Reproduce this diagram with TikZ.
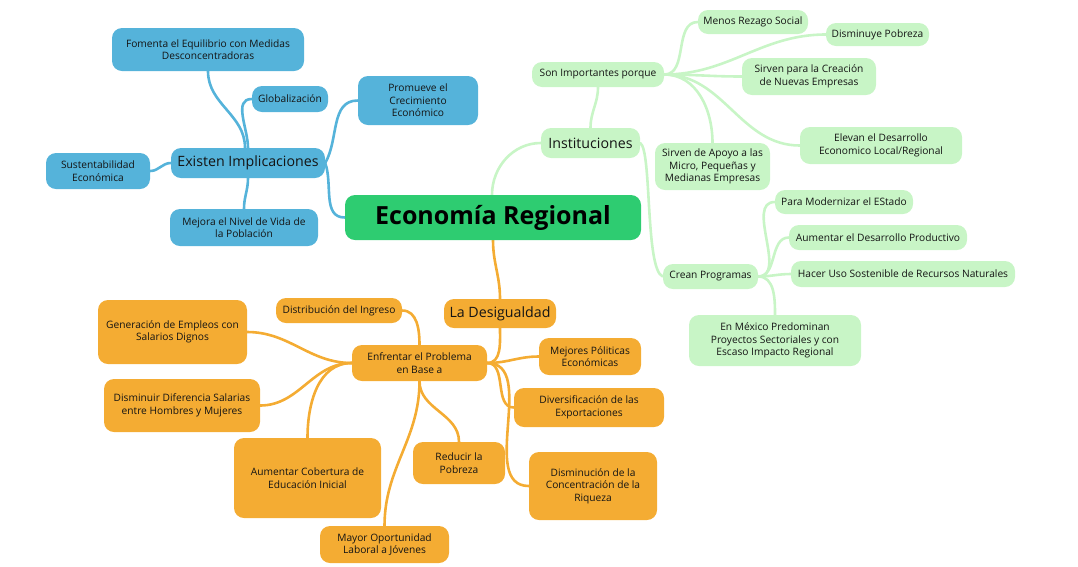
\documentclass[tikz,border=0pt]{standalone}
\usepackage{fontspec}
\setmainfont{Open Sans}
\usetikzlibrary{backgrounds}
\definecolor{cgreen}{HTML}{2ECC71}
\definecolor{cblue}{HTML}{55B3DA}
\definecolor{clight}{HTML}{C8F5C6}
\definecolor{corange}{HTML}{F4AC33}
\definecolor{ctext}{HTML}{141414}
\begin{document}
\begin{tikzpicture}[x=1pt,y=-1pt,
  box/.style={rounded corners=10pt, align=center, inner sep=0pt, text=ctext,
    font=\fontsize{10.2}{12.6}\selectfont},
  bluebox/.style={box, fill=cblue},
  lightbox/.style={box, fill=clight},
  orbox/.style={box, fill=corange},
  big/.style={font=\fontsize{14.2}{17}\selectfont},
  bl/.style={draw=cblue, line width=2.6pt, line cap=round},
  gl/.style={draw=clight, line width=2.6pt, line cap=round},
  ol/.style={draw=corange, line width=2.6pt, line cap=round},
  sz/.style 2 args={minimum width=#1, minimum height=#2}
]
\useasboundingbox (0,0) rectangle (1078,566);
% center
\node[box, fill=cgreen, sz={296}{45}, font=\bfseries\fontsize{25}{30}\selectfont, text=black] (ce) at (493,217.5) {Economía Regional};
% blue
\node[bluebox, big, sz={154}{30}] (ei) at (248,163) {Existen Implicaciones};
\node[bluebox, sz={192}{43}] (fo) at (208,49.5) {Fomenta el Equilibrio con Medidas\\Desconcentradoras};
\node[bluebox, sz={76}{26}] (glo) at (290,99) {Globalización};
\node[bluebox, sz={120}{49}] (pr) at (418,100.5) {Promueve el\\Crecimiento\\Económico};
\node[bluebox, sz={104}{36}] (su) at (98,171) {Sustentabilidad\\Económica};
\node[bluebox, sz={148}{37}] (me) at (244,227.5) {Mejora el Nivel de Vida de\\la Población};
% light green
\node[lightbox, big, sz={99}{30}] (in) at (590.5,143) {Instituciones};
\node[lightbox, sz={132}{25}] (so) at (598,74.5) {Son Importantes porque};
\node[lightbox, sz={110}{24}] (mr) at (753,22) {Menos Rezago Social};
\node[lightbox, sz={103}{23}] (dp) at (877.5,34.5) {Disminuye Pobreza};
\node[lightbox, sz={134}{37}] (sp) at (809,76.5) {Sirven para la Creación\\de Nuevas Empresas};
\node[lightbox, sz={162}{37}] (el) at (881,145.5) {Elevan el Desarrollo\\Economico Local/Regional};
\node[lightbox, sz={115}{47}] (sa) at (712.5,166.5) {Sirven de Apoyo a las\\Micro, Pequeñas y\\Medianas Empresas};
\node[lightbox, sz={95}{25}] (cp) at (710.5,276.5) {Crean Programas};
\node[lightbox, sz={138}{24}] (pm) at (844,202) {Para Modernizar el EStado};
\node[lightbox, sz={178}{25}] (ad) at (878,237.5) {Aumentar el Desarrollo Productivo};
\node[lightbox, sz={224}{26}] (hu) at (903,274) {Hacer Uso Sostenible de Recursos Naturales};
\node[lightbox, sz={172}{51}] (em) at (775,340.5) {En México Predominan\\Proyectos Sectoriales y con\\Escaso Impacto Regional};
% orange
\node[orbox, big, sz={112}{29}] (de) at (500,313.5) {La Desigualdad};
\node[orbox, sz={135}{36}] (en) at (419.5,363) {Enfrentar el Problema\\en Base a};
\node[orbox, sz={126}{25}] (di) at (339,310.5) {Distribución del Ingreso};
\node[orbox, sz={149}{64}] (ge) at (172.5,332) {Generación de Empleos con\\Salarios Dignos};
\node[orbox, sz={156}{53}] (dd) at (182,405.5) {Disminuir Diferencia Salarias\\entre Hombres y Mujeres};
\node[orbox, sz={147}{80}] (ac) at (307.5,478) {Aumentar Cobertura de\\Educación Inicial};
\node[orbox, sz={92}{42}] (rp) at (459,463) {Reducir la\\Pobreza};
\node[orbox, sz={129}{37}] (mo) at (384.5,544.5) {Mayor Oportunidad\\Laboral a Jóvenes};
\node[orbox, sz={102}{37}] (mp) at (590,356.5) {Mejores Póliticas\\Económicas};
\node[orbox, sz={150}{39}] (dv) at (589,407.5) {Diversificación de las\\Exportaciones};
\node[orbox, sz={128}{68}] (dc) at (593,486) {Disminución de la\\Concentración de la\\Riqueza};
\begin{pgfonlayer}{background}
% blue
\draw[bl] (ei.east) to[out=-70,in=180] (ce.west);
\draw[bl] (ei.east) to[out=60,in=180] (pr.west);
\draw[bl] ([xshift=-3pt]ei.north) to[out=90,in=-90] (fo.south);
\draw[bl] (ei.north) to[out=90,in=180] (glo.west);
\draw[bl] (ei.west) to[out=180,in=0] (su.east);
\draw[bl] (ei.south) to[out=-90,in=90] (me.north);
% green
\draw[gl] ([xshift=-1pt]ce.north) to[out=90,in=180] (in.west);
\draw[gl] (in.north) to[out=90,in=-90] (so.south);
\draw[gl] (so.east) to[out=0,in=180] (mr.west);
\draw[gl] (so.east) to[out=0,in=180] (dp.west);
\draw[gl] (so.east) to[out=0,in=180] (sp.west);
\draw[gl] (so.east) to[out=0,in=180] (el.west);
\draw[gl] (so.east) to[out=0,in=90] (sa.north);
\draw[gl] (in.east) .. controls (652,150) and (645,270) .. (cp.west);
\draw[gl] (cp.east) to[out=0,in=180] (pm.west);
\draw[gl] (cp.east) to[out=0,in=180] (ad.west);
\draw[gl] (cp.east) to[out=0,in=180] (hu.west);
\draw[gl] (cp.east) to[out=0,in=90] (em.north);
% orange
\draw[ol] (ce.south) to[out=-90,in=90] (de.north);
\draw[ol] (de.south) to[out=-90,in=0] (en.east);
\draw[ol] (en.north) to[out=90,in=0] (di.east);
\draw[ol] (en.west) to[out=180,in=0] (ge.east);
\draw[ol] (en.west) to[out=180,in=0] (dd.east);
\draw[ol] (en.west) to[out=180,in=90] (ac.north);
\draw[ol] (en.south) to[out=-90,in=90] (rp.north);
\draw[ol] (en.south) to[out=-90,in=90] (mo.north);
\draw[ol] (en.east) to[out=0,in=180] (mp.west);
\draw[ol] (en.east) to[out=0,in=180] (dv.west);
\draw[ol] (en.east) to[out=0,in=180] (dc.west);
\end{pgfonlayer}
\end{tikzpicture}
\end{document}
